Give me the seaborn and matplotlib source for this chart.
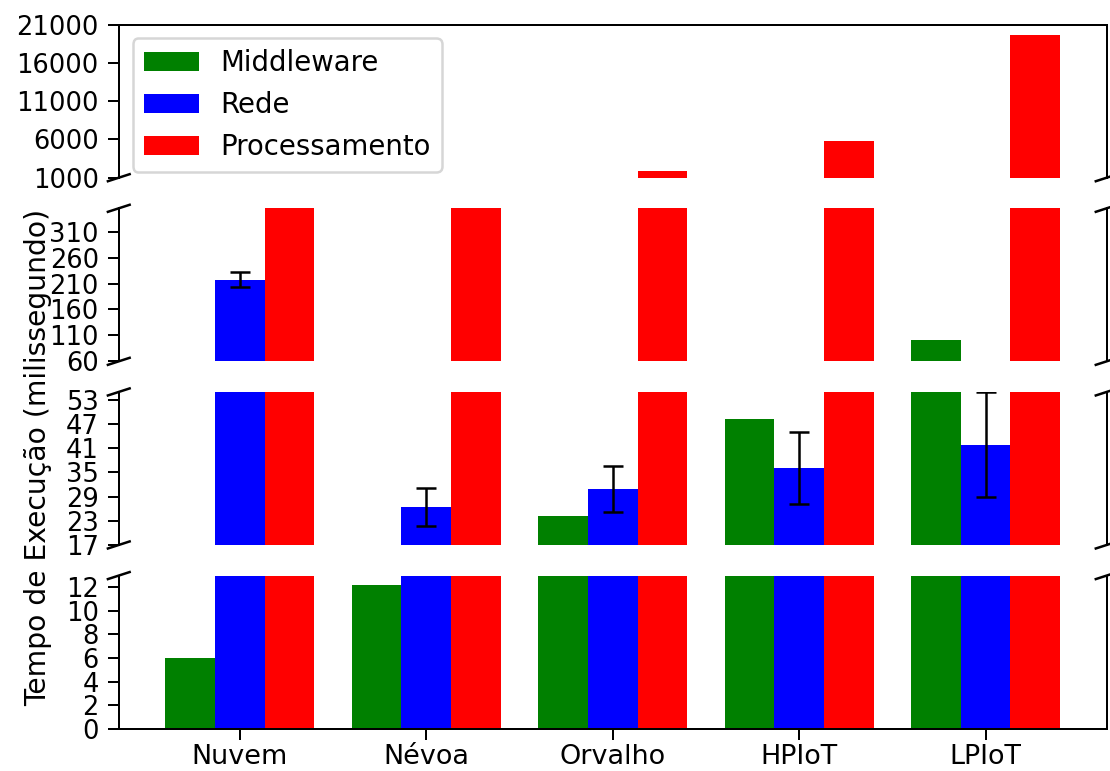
import matplotlib
matplotlib.use("Agg")
import matplotlib.pyplot as plt
import numpy as np
import pandas as pd
import seaborn as sns

grupos = ["Nuvem", "Névoa", "Orvalho", "HPIoT", "LPIoT"]
series = ["Middleware", "Rede", "Processamento"]
cores = ["green", "blue", "red"]

middleware = [6.0, 12.2, 24.2, 48.2, 101]
rede = [217.6, 26.4, 30.8, 36.1, 41.9]
rede_erro = [15, 4.7, 5.7, 8.9, 13.0]
processamento = [650, 700, 1830, 5820, 19630]

# ranges of the four broken-axis panels, top to bottom
limites = [(1000, 21000), (60, 355), (17, 55), (0, 13)]
ticks = [np.arange(1000, 21001, 5000), np.arange(60, 355, 50),
         np.arange(17, 55, 6), np.arange(0, 13, 2)]

df = pd.DataFrame({
    "grupo": np.repeat(grupos, 3),
    "tipo": series * len(grupos),
    "valor": np.ravel(np.column_stack([middleware, rede, processamento])),
})

fig, axes = plt.subplots(4, 1, sharex=True, figsize=(1110 / 180, 771 / 180), dpi=180)
fig.subplots_adjust(left=0.107, right=0.997, top=0.968, bottom=0.055, hspace=0.2)

dx, dy = 0.011, 0.023
for i, ax in enumerate(axes):
    sns.barplot(data=df, x="grupo", y="valor", hue="tipo", hue_order=series,
                palette=cores, saturation=1, linewidth=0, errorbar=None,
                legend=(i == 0), ax=ax)
    barras = ax.containers[1]
    xs = [b.get_x() + b.get_width() / 2 for b in barras]
    ax.errorbar(xs, rede, yerr=rede_erro, fmt="none", ecolor="black",
                elinewidth=1.0, capsize=4, capthick=1.0)
    ax.set_ylim(*limites[i])
    ax.set_yticks(ticks[i])
    ax.set_xlim(-0.65, 4.65)
    ax.set_xlabel("")
    ax.set_ylabel("")
    ax.tick_params(axis="y", length=4.5, labelsize=10.3)
    kw = dict(transform=ax.transAxes, color="k", clip_on=False, lw=1.0)
    if i > 0:
        ax.spines["top"].set_visible(False)
        for x0 in (0, 1):
            ax.plot((x0 - dx, x0 + dx), (1 - dy, 1 + dy), **kw)
    if i < 3:
        ax.spines["bottom"].set_visible(False)
        ax.tick_params(axis="x", bottom=False, labelbottom=False)
        for x0 in (0, 1):
            ax.plot((x0 - dx, x0 + dx), (-dy, dy), **kw)

axes[0].legend(loc="upper left", fontsize=11)
axes[3].tick_params(axis="x", length=4.5, labelsize=10.8, pad=1.5)

fig.text(0.034, 0.407, "Tempo de Execução (milissegundo)", rotation=90,
         ha="center", va="center", fontsize=11.3)

fig.savefig("out.png", dpi=180)
